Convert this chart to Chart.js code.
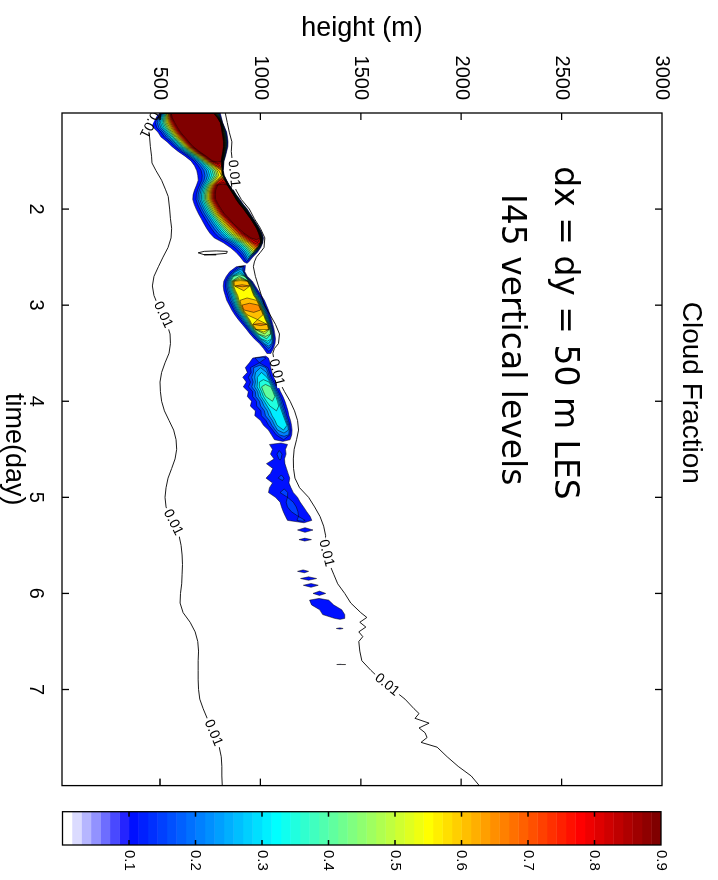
<!DOCTYPE html>
<html>
<head>
<meta charset="utf-8">
<title>Cloud Fraction</title>
<script src="https://cdn.jsdelivr.net/npm/chart.js@4.4.0/dist/chart.umd.min.js"></script>
<style>
  html, body { margin: 0; padding: 0; background: #fff; overflow: hidden; }
  /* figure is laid out landscape, then turned a quarter clockwise */
  #fig { position: absolute; left: 0; top: 0; width: 880px; height: 718px;
         transform-origin: 0 0; transform: translate(718px, 0) rotate(90deg); }
  #main { position: absolute; left: 0; top: 0; }
  #cbar { position: absolute; left: 790px; top: 0; }
</style>
</head>
<body>
<div id="fig">
  <canvas id="main" width="880" height="718"></canvas>
  <canvas id="cbar" width="90" height="718"></canvas>
</div>
<script>
// cloud layer: per time step, height of the 0.1 edges, the core and the peak fraction
const cloudT = [
  1.00,1.05,1.10,1.15,1.20,1.25,1.30,1.35,1.40,1.45,1.50,1.55,1.60,1.65,1.70,1.75,1.80,1.85,1.90,1.95,
  2.00,2.05,2.10,2.15,2.20,2.25,2.30,2.35,2.40,2.45,2.50,2.55, 2.58,
  2.60,2.65,2.70,2.75,2.80,2.85,2.90,2.95,3.00,3.05,3.10,3.15,3.20,3.25,3.30,3.35,3.40,3.45,3.50, 3.52,
  3.55,3.60,3.65,3.70,3.75,3.80,3.85,3.90,3.95,4.00,4.05,4.10,4.15,4.20,4.25,4.30,4.35,4.40, 4.425,
  4.45,4.50,4.55,4.60,4.65,4.70,4.75,4.80,4.85,4.90,4.95,5.00,5.05,5.10,5.15,5.20,5.24, 5.28,
  5.30,5.34,5.38, 5.41,5.44,5.47, 5.74,5.77,5.80, 5.815,5.845,5.875, 5.885,5.915,5.95,
  5.96,6.00,6.035, 6.04,6.07,6.12,6.17,6.22,6.26,6.29, 6.345,6.365,6.385, 6.725,6.74,6.755
];
const cloudBase = [
  500,475,460,466,490,505,535,560,590,625,655,672,683,688,690,682,672,665,663,670,
  680,692,705,718,732,748,770,815,850,878,900,918, 935,
  880,848,830,818,815,818,825,832,845,857,872,890,910,930,948,970,995,1015,1032, 1040,
  962,945,925,935,912,930,915,940,935,956,950,975,972,1000,1015,1040,1055,1070, 1110,
  1045,1060,1050,1068,1030,1062,1050,1028,1060,1045,1040,1075,1098,1105,1114,1125,1135, 1225,
  1222,1185,1222, 1222,1192,1222, 1212,1185,1225, 1240,1200,1240, 1252,1214,1252,
  1294,1262,1294, 1292,1245,1255,1295,1310,1370,1398, 1396,1378,1396, 1403,1380,1403
];
const cloudCoreLo = [
  558,565,578,592,607,628,648,670,700,735,765,790,796,800,805,790,782,780,782,795,
  810,826,850,872,898,925,957,975,975,960,940,930, 935,
  900,885,870,870,875,880,890,900,910,920,935,950,965,980,995,1010,1025,1035,1040, 1040,
  980,975,980,985,990,1000,1010,1020,1030,1040,1050,1060,1070,1080,1090,1095,1099,1096, 1110,
  1090,1090,1095,1095,1095,1100,1100,1105,1110,1115,1120,1130,1140,1150,1165,1185,1200, 1225,
  1222,1220,1222, 1222,1220,1222, 1212,1212,1225, 1240,1238,1240, 1252,1250,1252,
  1294,1292,1294, 1292,1290,1305,1350,1370,1395,1398, 1396,1395,1396, 1403,1402,1403
];
const cloudCoreHi = [
  764,785,800,805,808,812,815,815,812,808,805,806,808,812,822,835,850,865,878,895,
  915,932,950,965,980,990,998,998,985,965,945,932, 935,
  912,912,920,935,945,955,965,980,990,1000,1012,1022,1032,1040,1048,1052,1052,1050,1045, 1040,
  1020,1015,1020,1025,1030,1040,1050,1060,1070,1080,1090,1100,1110,1120,1130,1135,1139,1136, 1110,
  1095,1095,1100,1100,1100,1105,1105,1110,1115,1120,1125,1140,1150,1160,1175,1195,1210, 1225,
  1222,1225,1222, 1222,1222,1222, 1212,1215,1225, 1240,1242,1240, 1252,1254,1252,
  1294,1296,1294, 1292,1295,1310,1355,1375,1398,1398, 1396,1397,1396, 1403,1404,1403
];
const cloudTop = [
  800,806,812,822,832,836,839,838,832,826,819,817,815,820,832,845,865,880,898,915,
  935,950,965,980,995,1008,1015,1012,1002,985,962,942, 935,
  925,922,935,960,975,990,1005,1020,1030,1040,1048,1055,1062,1068,1072,1075,1073,1065,1052, 1040,
  1040,1048,1052,1058,1066,1078,1090,1100,1112,1122,1130,1137,1142,1150,1155,1158,1156,1148, 1110,
  1135,1125,1128,1120,1122,1130,1138,1146,1142,1152,1164,1185,1198,1215,1231,1248,1256, 1225,
  1222,1262,1222, 1222,1254,1222, 1212,1240,1225, 1240,1280,1240, 1252,1288,1252,
  1294,1325,1294, 1292,1340,1365,1405,1420,1420,1398, 1396,1412,1396, 1403,1425,1403
];
const cloudPeak = [
  0.95,0.95,0.95,0.95,0.95,0.95,0.95,0.95,0.95,0.95,0.93,0.80,0.62,0.60,0.80,0.93,0.95,0.95,0.95,0.95,
  0.95,0.95,0.95,0.95,0.95,0.95,0.93,0.85,0.70,0.50,0.30,0.15, 0.05,
  0.20,0.30,0.45,0.62,0.66,0.60,0.58,0.62,0.67,0.68,0.62,0.60,0.66,0.62,0.50,0.40,0.30,0.20,0.12, 0.05,
  0.20,0.15,0.25,0.30,0.32,0.38,0.42,0.43,0.42,0.40,0.36,0.35,0.34,0.33,0.33,0.30,0.22,0.15, 0.08,
  0.13,0.14,0.18,0.16,0.12,0.13,0.14,0.17,0.13,0.14,0.18,0.15,0.18,0.19,0.17,0.15,0.18, 0.05,
  0.08,0.13,0.08, 0.08,0.12,0.08, 0.08,0.12,0.08, 0.08,0.13,0.08, 0.08,0.13,0.08,
  0.08,0.13,0.08, 0.08,0.13,0.14,0.14,0.13,0.11,0.08, 0.08,0.11,0.08, 0.08,0.105,0.08
];

// filled contour levels
const levels = [0.1,0.15,0.2,0.25,0.3,0.35,0.4,0.45,0.5,0.55,0.6,0.65,0.7,0.75,0.8,0.85,0.9];

// 0.01 contour below the cloud
const lowT = [1.00,1.04,1.07,1.15,1.25,1.35,1.45,1.52,1.60,1.70,1.80,1.87,
  2.00,2.10,2.20,2.30,2.40,2.50,2.60,2.70,2.80,2.90,3.00,3.10,3.20,3.30,3.40,3.50,3.60,3.70,3.80,3.90,
  4.00,4.10,4.20,4.30,4.40,4.50,4.60,4.70,4.80,4.90,5.00,5.10,5.20,5.30,5.40,5.50,5.60,5.70,5.80,5.90,
  6.00,6.10,6.20,6.30,6.40,6.50,6.60,6.70,6.80,6.90,7.00,7.10,7.20,7.30,7.40,7.50,7.60,7.70,7.80,7.90,8.00];
const lowH = [505,503,455,440,448,452,458,460,480,508,528,541,
  548,552,558,555,540,515,492,470,462,470,490,515,535,550,552,545,525,508,500,502,
  508,522,545,568,580,583,575,558,540,530,525,530,550,575,595,605,610,612,610,608,
  602,600,615,650,675,688,692,690,690,690,692,698,715,735,755,775,795,805,808,808,810];

// 0.01 contour above the cloud
const upT = [1.00,1.10,1.20,1.30,1.40,1.50,1.60,1.70,1.80,1.90,2.00,2.10,2.20,2.30,2.40,2.45,2.50,2.55,
  2.60,2.70,2.80,2.90,3.00,3.10,3.20,3.30,3.40,3.45,3.50,
  3.60,3.70,3.80,3.90,4.00,4.10,4.20,4.30,4.40,4.50,4.60,4.70,4.80,4.90,5.00,5.10,5.20,5.30,5.40,5.50,
  5.60,5.70,5.80,5.90,6.00,6.10,6.20,6.25,6.30,6.35,6.40,6.45,6.50,
  6.60,6.70,6.80,6.90,7.00,7.10,7.20,7.25,7.30,7.35,7.40,7.45,7.50,7.55,7.60,7.70,7.80,7.90,8.00];
const upH = [825,835,845,858,855,860,866,870,878,905,945,970,1000,1022,1018,1000,980,970,
  965,975,990,1005,1020,1048,1075,1095,1090,1070,1062,
  1070,1080,1095,1120,1148,1170,1185,1190,1180,1168,1164,1165,1172,1195,1240,1270,1297,1315,1325,1320,
  1330,1345,1365,1385,1420,1450,1500,1530,1495,1525,1490,1510,1490,
  1495,1505,1550,1600,1660,1720,1765,1790,1770,1840,1790,1820,1830,1800,1880,1930,1985,2050,2090];

// small closed 0.01 contour under the first cloud
const lensT = [2.455,2.44,2.435,2.44,2.46,2.47,2.475,2.455];
const lensH = [690,720,780,835,832,780,720,690];

// where the "0.01" labels sit on each line
const lowLabelT = [1.12, 3.1, 5.26, 7.45];
const upLabelT = [1.63, 3.7, 5.58, 6.95];

const timeTicks = [2, 3, 4, 5, 6, 7];
const heightTicks = [500, 1000, 1500, 2000, 2500, 3000];
const cbTicks = [0.1, 0.2, 0.3, 0.4, 0.5, 0.6, 0.7, 0.8, 0.9];
const FONT = "'Liberation Sans', Arial, Helvetica, sans-serif";

// white -> blue ramp followed by the upper part of jet(64)
const NCOL = 63;
function jet(k) {
  let r, g, b;
  if (k <= 24) r = 0; else if (k <= 40) r = (k - 24) / 16; else if (k <= 56) r = 1; else r = 1 - (k - 56) / 16;
  if (k <= 8) g = 0; else if (k <= 24) g = (k - 8) / 16; else if (k <= 40) g = 1; else if (k <= 56) g = 1 - (k - 40) / 16; else g = 0;
  if (k <= 8) b = (k + 8) / 16; else if (k <= 24) b = 1; else if (k <= 40) b = 1 - (k - 24) / 16; else b = 0;
  return [r, g, b];
}
function cmap(i) {
  let c;
  if (i < 7) { const v = 1 - i / 7; c = [v, v, 1]; }
  else c = jet(i + 2);
  return `rgb(${Math.round(c[0] * 255)},${Math.round(c[1] * 255)},${Math.round(c[2] * 255)})`;
}
function levelColor(L) {
  return cmap(Math.min(NCOL - 1, Math.floor(L / 0.9 * NCOL + 1e-6)));
}

// profile is steeper near the core than at the cloud edge
function ramp(f) {
  return Math.pow(f, 0.7);
}

function crossing(i, L) {
  const f = ramp((L - 0.1) / (cloudPeak[i] - 0.1));
  return [cloudBase[i] + (cloudCoreLo[i] - cloudBase[i]) * f,
          cloudTop[i] - (cloudTop[i] - cloudCoreHi[i]) * f];
}

function tip(i, j, L) {
  const f = (cloudPeak[i] - L) / (cloudPeak[i] - cloudPeak[j]);
  const ci = (cloudCoreLo[i] + cloudCoreHi[i]) / 2;
  const cj = (cloudCoreLo[j] + cloudCoreHi[j]) / 2;
  return { x: cloudT[i] + (cloudT[j] - cloudT[i]) * f, y: ci + (cj - ci) * f };
}

// one closed ring per run of time steps whose peak exceeds the level
function levelPolygons(L) {
  const out = [];
  const n = cloudT.length;
  let i = 0;
  while (i < n) {
    if (cloudPeak[i] <= L) { i++; continue; }
    const s = i;
    while (i < n && cloudPeak[i] > L) i++;
    const e = i - 1;
    const lower = [], upper = [];
    if (s > 0) lower.push(tip(s, s - 1, L));
    for (let k = s; k <= e; k++) {
      const [lo, hi] = crossing(k, L);
      lower.push({ x: cloudT[k], y: lo });
      upper.unshift({ x: cloudT[k], y: hi });
    }
    if (e < n - 1) lower.push(tip(e, e + 1, L));
    const ring = lower.concat(upper);
    ring.push({ x: ring[0].x, y: ring[0].y });
    if (out.length) out.push({ x: ring[0].x, y: null });
    out.push(...ring);
  }
  return out;
}

function toPoints(ts, hs) {
  return ts.map((t, i) => ({ x: t, y: hs[i] }));
}

function interp(ts, hs, t) {
  if (t <= ts[0]) return hs[0];
  for (let i = 1; i < ts.length; i++) {
    if (t <= ts[i]) return hs[i - 1] + (hs[i] - hs[i - 1]) * (t - ts[i - 1]) / (ts[i] - ts[i - 1]);
  }
  return hs[hs.length - 1];
}

function drawLabel(ctx, xs, ys, ts, hs, t) {
  const px = xs.getPixelForValue(t), py = ys.getPixelForValue(interp(ts, hs, t));
  const x1 = xs.getPixelForValue(t - 0.06), y1 = ys.getPixelForValue(interp(ts, hs, t - 0.06));
  const x2 = xs.getPixelForValue(t + 0.06), y2 = ys.getPixelForValue(interp(ts, hs, t + 0.06));
  let ang = Math.atan2(y2 - y1, x2 - x1);
  if (ang > Math.PI / 2) ang -= Math.PI;
  if (ang < -Math.PI / 2) ang += Math.PI;
  ctx.save();
  ctx.translate(px, py);
  ctx.rotate(ang);
  ctx.font = '14px ' + FONT;
  const w = ctx.measureText('0.01').width;
  ctx.fillStyle = '#fff';
  ctx.fillRect(-w / 2 - 2, -3, w + 4, 6);
  ctx.fillStyle = '#000';
  ctx.textAlign = 'center';
  ctx.textBaseline = 'middle';
  ctx.fillText('0.01', 0, 0);
  ctx.restore();
}

const frame = {
  id: 'frame',
  afterDatasetsDraw(chart) {
    const { ctx, chartArea: a, scales: { x, y } } = chart;
    ctx.save();
    ctx.beginPath();
    ctx.rect(a.left, a.top, a.right - a.left, a.bottom - a.top);
    ctx.clip();
    lowLabelT.forEach(t => drawLabel(ctx, x, y, lowT, lowH, t));
    upLabelT.forEach(t => drawLabel(ctx, x, y, upT, upH, t));

    ctx.fillStyle = '#000';
    ctx.font = "33px 'DejaVu Sans', sans-serif";
    ctx.textAlign = 'center';
    ctx.textBaseline = 'alphabetic';
    ctx.fillText('dx = dy = 50 m LES', x.getPixelForValue(3.29), y.getPixelForValue(2467));
    ctx.fillText('I45 vertical levels', x.getPixelForValue(3.36), y.getPixelForValue(2203));
    ctx.restore();

    ctx.save();
    ctx.strokeStyle = '#000';
    ctx.lineWidth = 1.3;
    ctx.strokeRect(a.left, a.top, a.right - a.left, a.bottom - a.top);
    ctx.beginPath();
    x.ticks.forEach(tk => {
      if (tk.value <= x.min || tk.value >= x.max) return;
      const px = x.getPixelForValue(tk.value);
      ctx.moveTo(px, a.bottom); ctx.lineTo(px, a.bottom - 7);
      ctx.moveTo(px, a.top); ctx.lineTo(px, a.top + 7);
    });
    y.ticks.forEach(tk => {
      if (tk.value <= y.min || tk.value >= y.max) return;
      const py = y.getPixelForValue(tk.value);
      ctx.moveTo(a.left, py); ctx.lineTo(a.left + 7, py);
      ctx.moveTo(a.right, py); ctx.lineTo(a.right - 7, py);
    });
    ctx.stroke();
    ctx.restore();
  }
};

const contourSets = levels.map((L, k) => ({
  data: levelPolygons(L),
  fill: 'shape',
  backgroundColor: levelColor(L),
  borderColor: '#000',
  borderWidth: 0.5,
  pointRadius: 0,
  tension: 0,
  order: levels.length - k + 1
}));

const lineStyle = { borderColor: '#000', borderWidth: 0.9, fill: false, pointRadius: 0, tension: 0, order: 0 };

new Chart(document.getElementById('main'), {
  type: 'line',
  data: {
    datasets: [
      ...contourSets,
      { ...lineStyle, data: toPoints(lowT, lowH) },
      { ...lineStyle, data: toPoints(upT, upH) },
      { ...lineStyle, data: toPoints(lensT, lensH) }
    ]
  },
  options: {
    responsive: false,
    animation: false,
    devicePixelRatio: 1,
    events: [],
    spanGaps: false,
    layout: { padding: { left: 0, right: 94.4, top: 0, bottom: 0 } },
    plugins: {
      legend: { display: false },
      tooltip: { enabled: false },
      filler: { propagate: false, drawTime: 'beforeDatasetsDraw' },
      title: {
        display: true,
        text: 'Cloud Fraction',
        color: '#000',
        font: { family: FONT, size: 28, weight: 'normal' },
        padding: { top: 10.7, bottom: 11.7 }
      }
    },
    scales: {
      x: {
        type: 'linear',
        min: 1, max: 8,
        grid: { display: false, drawTicks: false },
        border: { display: false },
        afterBuildTicks(s) { s.ticks = timeTicks.map(v => ({ value: v })); },
        ticks: {
          autoSkip: false, maxRotation: 0, padding: 14, color: '#000',
          font: { family: FONT, size: 20 },
          callback: v => String(v)
        },
        title: { display: true, text: 'time(day)', color: '#000', font: { family: FONT, size: 27, lineHeight: 1.0 }, padding: { top: 0, bottom: 0 } },
        afterFit(s) { s.height = 62; }
      },
      y: {
        type: 'linear',
        min: 12, max: 3000,
        grid: { display: false, drawTicks: false },
        border: { display: false },
        afterBuildTicks(s) { s.ticks = heightTicks.map(v => ({ value: v })); },
        ticks: {
          autoSkip: false, padding: 13, color: '#000', font: { family: FONT, size: 20 },
          callback: v => String(v)
        },
        title: { display: true, text: 'height (m)', color: '#000', font: { family: FONT, size: 27 }, padding: { top: 12.3, bottom: 0 } },
        afterFit(s) { s.width = 113; }
      }
    }
  },
  plugins: [frame]
});

// colour bar
const cbEdges = Array.from({ length: NCOL + 1 }, (_, i) => i * 0.9 / NCOL);
const cbFrame = {
  id: 'cbFrame',
  afterDraw(chart) {
    const { ctx, chartArea: a, scales: { y } } = chart;
    ctx.save();
    ctx.strokeStyle = '#000';
    ctx.lineWidth = 1.3;
    ctx.strokeRect(a.left, a.top, a.right - a.left, a.bottom - a.top);
    ctx.beginPath();
    y.ticks.forEach(tk => {
      if (tk.value <= y.min + 1e-9 || tk.value >= y.max - 1e-9) return;
      const py = y.getPixelForValue(tk.value);
      ctx.moveTo(a.left, py); ctx.lineTo(a.left + 5, py);
      ctx.moveTo(a.right, py); ctx.lineTo(a.right - 5, py);
    });
    ctx.stroke();
    ctx.restore();
  }
};

new Chart(document.getElementById('cbar'), {
  type: 'bar',
  data: {
    labels: [''],
    datasets: cbEdges.slice(0, NCOL).map((lo, i) => ({
      data: [[lo, cbEdges[i + 1]]],
      backgroundColor: cmap(i),
      borderWidth: 0
    }))
  },
  options: {
    responsive: false,
    animation: false,
    devicePixelRatio: 1,
    events: [],
    datasets: { bar: { grouped: false, barPercentage: 1, categoryPercentage: 1 } },
    layout: { padding: { left: 21.7, right: 0, top: 57, bottom: 62.5 } },
    plugins: { legend: { display: false }, tooltip: { enabled: false } },
    scales: {
      x: { display: false },
      y: {
        position: 'right',
        min: 0, max: 0.9,
        grid: { display: false, drawTicks: false },
        border: { display: false },
        afterBuildTicks(s) { s.ticks = cbTicks.map(v => ({ value: v })); },
        ticks: {
          padding: 5, color: '#000', font: { family: FONT, size: 15 },
          callback: v => Number(v).toFixed(1)
        },
        afterFit(s) { s.width = 35; }
      }
    }
  },
  plugins: [cbFrame]
});
</script>
</body>
</html>
